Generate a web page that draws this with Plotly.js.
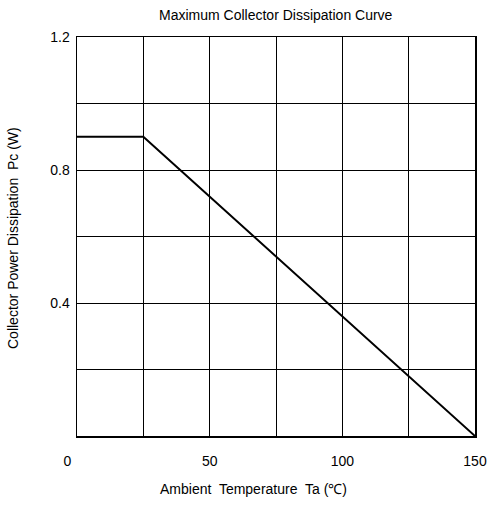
<!DOCTYPE html>
<html>
<head>
<meta charset="utf-8">
<script src="https://cdn.plot.ly/plotly-3.0.1.min.js"></script>
<style>html,body{margin:0;padding:0;background:#fff;}#chart{width:491px;height:507px;}</style>
</head>
<body>
<div id="chart"></div>
<script>
// Data
const temperature = [0, 25, 150];
const power = [0.9, 0.9, 0];
const xTickVals = [0, 25, 50, 75, 100, 125, 150];
const xTickText = ['0\u00a0\u00a0\u00a0\u00a0\u00a0', '', '50', '', '100', '', '150'];
const yTickVals = [0, 0.2, 0.4, 0.6, 0.8, 1.0, 1.2];
const yTickText = ['', '', '0.4', '', '0.8', '', '1.2'];
const chartTitle = 'Maximum Collector Dissipation Curve';
const xTitle = 'Ambient  Temperature  Ta (℃)';
const yTitle = 'Collector Power Dissipation  Pc (W)';

const font = {family: 'Liberation Sans, Arial, sans-serif', size: 14, color: '#000'};

Plotly.newPlot('chart', [{
  x: temperature, y: power, type: 'scatter', mode: 'lines',
  line: {color: '#000', width: 2}, hoverinfo: 'none'
}], {
  width: 491, height: 507,
  margin: {l: 77, r: 16, t: 37, b: 71, pad: 0},
  paper_bgcolor: '#fff', plot_bgcolor: '#fff',
  font: font,
  showlegend: false,
  xaxis: {
    range: [0, 150], tickmode: 'array', tickvals: xTickVals, ticktext: xTickText,
    showgrid: true, gridcolor: '#000', gridwidth: 1,
    showline: true, linecolor: '#000', linewidth: 1.5, mirror: true,
    ticks: '', ticklabelstandoff: 12, zeroline: false, fixedrange: true
  },
  yaxis: {
    range: [0, 1.2], tickmode: 'array', tickvals: yTickVals, ticktext: yTickText,
    showgrid: true, gridcolor: '#000', gridwidth: 1,
    showline: true, linecolor: '#000', linewidth: 1.5, mirror: true,
    ticks: '', ticklabelstandoff: 3, zeroline: false, fixedrange: true
  },
  annotations: [
    {text: chartTitle, xref: 'paper', yref: 'paper', x: 0.5, y: 1, yshift: 22, showarrow: false, xanchor: 'center', yanchor: 'middle', font: font},
    {text: xTitle, xref: 'paper', yref: 'paper', x: (253-77)/398, y: 0, yshift: -53, showarrow: false, xanchor: 'center', yanchor: 'middle', font: font},
    {text: yTitle, xref: 'paper', yref: 'paper', x: 0, xshift: -64, y: (436-238)/399, showarrow: false, xanchor: 'center', yanchor: 'middle', textangle: -90, font: font}
  ]
}, {displayModeBar: false, staticPlot: true});
</script>
</body>
</html>
